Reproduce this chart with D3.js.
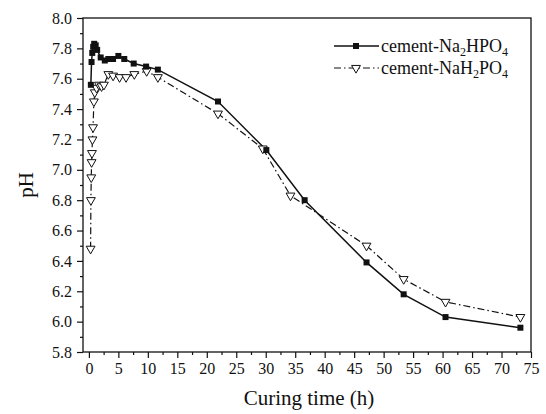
<!DOCTYPE html>
<html>
<head>
<meta charset="utf-8">
<script src="https://cdn.jsdelivr.net/npm/d3@7"></script>
<style>
  html, body { margin: 0; padding: 0; background: #fff; }
  svg { display: block; }
  text { font-family: "Liberation Serif", "DejaVu Serif", serif; fill: #111; }
</style>
</head>
<body>
<svg id="chart" width="546" height="414"></svg>
<script>
// pH of cement pastes during curing
const timeNa2HPO4 = [0.33, 0.45, 0.57, 0.73, 0.9, 1.15, 1.4, 2.0, 2.7, 3.3, 4.1, 5.0, 6.0, 7.6, 9.7, 11.7, 21.9, 30.1, 36.6, 47.1, 53.4, 60.5, 73.2];
const pHNa2HPO4   = [7.56, 7.71, 7.77, 7.81, 7.83, 7.82, 7.79, 7.74, 7.72, 7.73, 7.73, 7.75, 7.73, 7.70, 7.68, 7.66, 7.45, 7.13, 6.80, 6.39, 6.18, 6.03, 5.96];

const timeNaH2PO4 = [0.29, 0.34, 0.4, 0.46, 0.52, 0.6, 0.7, 0.85, 1.0, 1.3, 1.7, 2.15, 2.55, 3.3, 4.1, 5.2, 6.3, 7.7, 9.8, 11.7, 21.9, 29.5, 34.2, 47.1, 53.4, 60.5, 73.2];
const pHNaH2PO4   = [6.48, 6.80, 6.95, 7.05, 7.11, 7.20, 7.28, 7.45, 7.51, 7.54, 7.56, 7.55, 7.56, 7.63, 7.62, 7.61, 7.61, 7.63, 7.65, 7.61, 7.37, 7.14, 6.83, 6.50, 6.28, 6.13, 6.03];

const xTicks = d3.range(0, 76, 5);
const yTicks = d3.range(5.8, 8.01, 0.2);

const serif = "Liberation Serif, DejaVu Serif, serif";
const svg = d3.select("#chart");
const plot = { left: 83, right: 531, top: 18, bottom: 352 };

const x = d3.scaleLinear().domain([-1, 75]).range([plot.left, plot.right]);
const y = d3.scaleLinear().domain([5.8, 8.0]).range([plot.bottom, plot.top]);

// frame
svg.append("rect")
  .attr("x", plot.left).attr("y", plot.top)
  .attr("width", plot.right - plot.left).attr("height", plot.bottom - plot.top)
  .attr("fill", "none").attr("stroke", "#111").attr("stroke-width", 1.3);

// x axis: minor + major ticks
const xMinor = svg.append("g").attr("transform", `translate(0,${plot.bottom})`)
  .call(d3.axisBottom(x).tickValues(d3.range(2.5, 75, 5)).tickSize(3).tickFormat(""));
xMinor.select(".domain").remove();
const xMajor = svg.append("g").attr("transform", `translate(0,${plot.bottom})`)
  .call(d3.axisBottom(x).tickValues(xTicks).tickSize(6).tickPadding(5).tickFormat(d3.format("d")));
xMajor.select(".domain").remove();

// y axis: minor + major ticks
const yMinor = svg.append("g").attr("transform", `translate(${plot.left},0)`)
  .call(d3.axisLeft(y).tickValues(d3.range(5.9, 8.0, 0.2)).tickSize(3).tickFormat(""));
yMinor.select(".domain").remove();
const yMajor = svg.append("g").attr("transform", `translate(${plot.left},0)`)
  .call(d3.axisLeft(y).tickValues(yTicks).tickSize(6).tickPadding(5).tickFormat(d3.format(".1f")));
yMajor.select(".domain").remove();

[xMinor, xMajor, yMinor, yMajor].forEach(g => g.attr("font-family", serif).attr("font-size", 16));
svg.selectAll(".tick line").attr("stroke", "#111").attr("stroke-width", 1.2);
svg.selectAll(".tick text").style("font-size", "16px").style("font-family", serif).attr("fill", "#111");

// axis titles
svg.append("text").attr("x", (plot.left + plot.right) / 2 + 2).attr("y", 405)
  .attr("text-anchor", "middle").style("font-size", "21px").style("font-family", serif)
  .text("Curing time (h)");
svg.append("text").attr("transform", `translate(33,${(plot.top + plot.bottom) / 2}) rotate(-90)`)
  .attr("text-anchor", "middle").style("font-size", "21px").style("font-family", serif)
  .text("pH");

// series
const s1 = timeNa2HPO4.map((t, i) => [t, pHNa2HPO4[i]]);
const s2 = timeNaH2PO4.map((t, i) => [t, pHNaH2PO4[i]]);
const line = d3.line().x(d => x(d[0])).y(d => y(d[1]));
const dashPattern = "7,3,1.5,3";

svg.append("path").datum(s2).attr("d", line)
  .attr("fill", "none").attr("stroke", "#111").attr("stroke-width", 1.2)
  .attr("stroke-dasharray", dashPattern);
svg.append("path").datum(s1).attr("d", line)
  .attr("fill", "none").attr("stroke", "#111").attr("stroke-width", 1.5);

const tri = d3.symbol().type(d3.symbolTriangle).size(34);
svg.append("g").selectAll("path").data(s2).join("path")
  .attr("d", tri)
  .attr("transform", d => `translate(${x(d[0])},${y(d[1])}) rotate(180)`)
  .attr("fill", "#fff").attr("stroke", "#111").attr("stroke-width", 1);

const sq = 6;
svg.append("g").selectAll("rect").data(s1).join("rect")
  .attr("x", d => x(d[0]) - sq / 2).attr("y", d => y(d[1]) - sq / 2)
  .attr("width", sq).attr("height", sq).attr("fill", "#111");

// legend
const legend = svg.append("g");
const rows = [
  { y: 46, base: "cement-Na", a: "2", mid: "HPO", b: "4", dash: null, marker: "square" },
  { y: 68, base: "cement-NaH", a: "2", mid: "PO", b: "4", dash: dashPattern, marker: "tri" }
];
rows.forEach(r => {
  legend.append("line").attr("x1", 334).attr("x2", 379).attr("y1", r.y).attr("y2", r.y)
    .attr("stroke", "#111").attr("stroke-width", r.dash ? 1.2 : 1.5)
    .attr("stroke-dasharray", r.dash);
  if (r.marker === "square") {
    legend.append("rect").attr("x", 356 - sq / 2).attr("y", r.y - sq / 2)
      .attr("width", sq).attr("height", sq).attr("fill", "#111");
  } else {
    legend.append("path").attr("d", tri)
      .attr("transform", `translate(356,${r.y}) rotate(180)`)
      .attr("fill", "#fff").attr("stroke", "#111").attr("stroke-width", 1);
  }
  const t = legend.append("text").attr("x", 381).attr("y", r.y + 6)
    .style("font-size", "18px").style("font-family", serif);
  t.append("tspan").text(r.base);
  t.append("tspan").attr("dy", 4).style("font-size", "12px").text(r.a);
  t.append("tspan").attr("dy", -4).text(r.mid);
  t.append("tspan").attr("dy", 4).style("font-size", "12px").text(r.b);
});
</script>
</body>
</html>
